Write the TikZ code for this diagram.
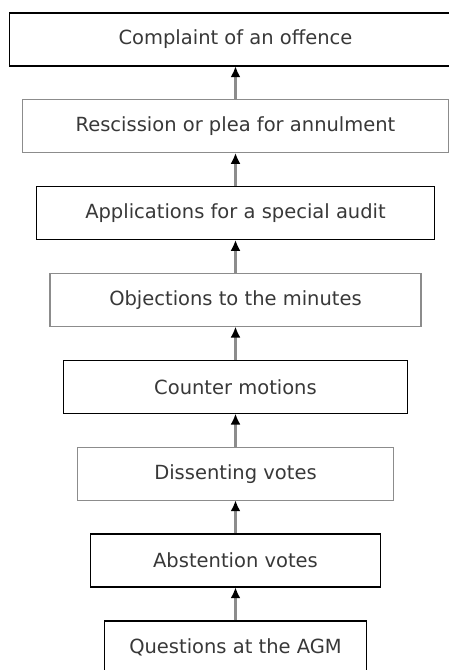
\documentclass[tikz,border=0pt]{standalone}
\usepackage{fontspec}
\setmainfont{DejaVu Sans}
\usetikzlibrary{positioning}
\usetikzlibrary{arrows.meta}
\definecolor{boxgray}{gray}{0.55}
\definecolor{txtgray}{gray}{0.22}
\tikzset{
	stepnode/.style = {rectangle, align=center, minimum height=53pt,
		text=txtgray, font=\fontsize{19.5}{22}\selectfont},
	box_k/.style = {stepnode, draw=black, line width=1.5pt},% cadre noir
	box_g/.style = {stepnode, draw=boxgray, line width=1.2pt},% cadre gris
	uparrow/.style = {draw=boxgray, line width=2.2pt, shorten >=-0.5pt,
		-{Latex[black,length=11pt,width=10pt]}}
}
\begin{document}
\begin{tikzpicture}[x=1pt,y=1pt,node distance=32.5pt]
	\useasboundingbox (0,0) rectangle (449,670);
	\node [box_k, minimum width=262pt] (agm) at (235.5,22.5) {Questions at the AGM};
	\node [box_k, minimum width=290pt, above=of agm] (abst) {Abstention votes};
	\node [box_g, minimum width=316pt, above=of abst] (diss) {Dissenting votes};
	\node [box_k, minimum width=344pt, above=of diss] (counter) {Counter motions};
	\node [box_g, minimum width=371pt, above=of counter] (minutes) {Objections to the minutes};
	\node [box_k, minimum width=398pt, above=of minutes] (audit) {Applications for a special audit};
	\node [box_g, minimum width=426pt, above=of audit] (resc) {Rescission or plea for annulment};
	\node [box_k, minimum width=452pt, above=of resc] (compl) {Complaint of an offence};
	% fleches vers le haut
	\draw [uparrow] (agm) -- (abst);
	\draw [uparrow] (abst) -- (diss);
	\draw [uparrow] (diss) -- (counter);
	\draw [uparrow] (counter) -- (minutes);
	\draw [uparrow] (minutes) -- (audit);
	\draw [uparrow] (audit) -- (resc);
	\draw [uparrow] (resc) -- (compl);
\end{tikzpicture}
\end{document}
